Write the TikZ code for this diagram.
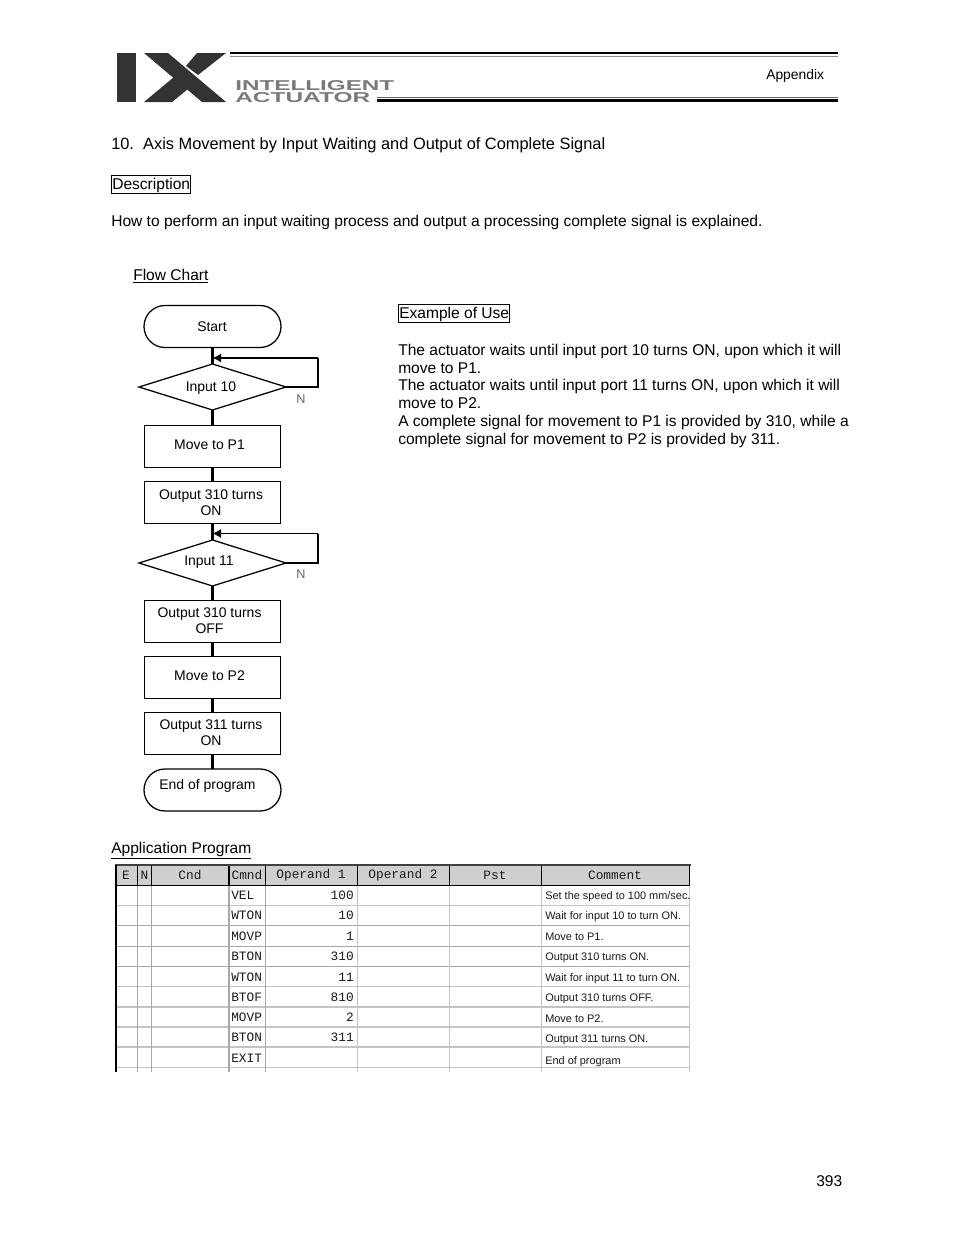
\documentclass[tikz,border=0pt]{standalone}
\usepackage{fontspec}
\usepackage{graphicx}
\setmainfont{Liberation Sans}
\newfontfamily\cellmono{Liberation Mono}
\usetikzlibrary{shapes.geometric,shapes.misc,arrows.meta}
\definecolor{inkdark}{HTML}{1A1A1A}
\definecolor{logodark}{HTML}{333333}
\definecolor{logogray}{HTML}{7A7A7A}
\definecolor{headfill}{HTML}{CFCFCF}
\definecolor{gridgray}{HTML}{C4C4C4}
\definecolor{gridmid}{HTML}{A8A8A8}
\tikzset{
  bodytext/.style={anchor=base west,inner sep=0pt,font=\fontsize{11.67}{14}\selectfont,text=black},
  flowbox/.style={draw=black,line width=0.95pt,rectangle,minimum width=102.5pt,minimum height=31pt,inner sep=0pt,outer sep=0pt},
  terminal/.style={draw=black,line width=0.95pt,rounded rectangle,minimum width=102.75pt,minimum height=31.5pt,inner sep=0pt,outer sep=0pt},
  decision/.style={draw=black,line width=0.95pt,diamond,shape aspect=3.2,minimum width=110.25pt,minimum height=34.5pt,inner sep=0pt,outer sep=0pt},
  flowlabel/.style={font=\fontsize{10.47}{12}\selectfont,align=center,inner sep=0pt},
  link/.style={draw=black,line width=1.6pt},
  loopside/.style={draw=black,line width=1.05pt},
  loopback/.style={draw=black,line width=1.6pt,-{Latex[length=6.5pt,width=7pt]}},
  nmark/.style={font=\fontsize{9.5}{11}\selectfont,text=black!60,inner sep=0pt},
  headtxt/.style={font=\cellmono\fontsize{9.6}{11}\selectfont,text=inkdark,inner sep=0pt},
  celltxt/.style={font=\cellmono\fontsize{9.6}{11}\selectfont,text=inkdark,inner sep=0pt},
  cmttxt/.style={font=\fontsize{8.2}{10}\selectfont,text=inkdark,anchor=west,inner sep=0pt},
}
\begin{document}
\begin{tikzpicture}[x=0.75pt,y=-0.75pt]
\path[use as bounding box,fill=white] (0,0) rectangle (954,1235);
% logo
\fill[logodark] (117,53) rectangle (136,102);
\fill[logodark] (144,53) -- (168,53) -- (226,102) -- (202,102) -- cycle;
\fill[logodark] (197,53) -- (226,53) -- (198,75) -- (186,66) -- cycle;
\fill[logodark] (144,102) -- (172,102) -- (188,89) -- (174,77) -- cycle;
\draw[black,line width=1.6pt] (230,53) -- (838,53);
\draw[black!45,line width=0.7pt] (230,56) -- (838,56);
\draw[black!60,line width=0.7pt] (377,97) -- (838,97);
\draw[black,line width=1.6pt] (377,100.5) -- (838,100.5);
\node[anchor=base west,inner sep=0pt,text=logogray] (logoa) at (235,90) {\resizebox{119.25pt}{7.5pt}{\bfseries INTELLIGENT}};
\node[anchor=base west,inner sep=0pt,text=logogray] (logob) at (235,102) {\resizebox{101.25pt}{7.5pt}{\bfseries ACTUATOR}};
\node[anchor=base west,inner sep=0pt,font=\fontsize{10.4}{12}\selectfont] (appx) at (766,79) {Appendix};
% heading text
\node[bodytext,font=\fontsize{12.29}{14}\selectfont] (title) at (111,149) {10.\ \ Axis Movement by Input Waiting and Output of Complete Signal};
\node[bodytext] (desc) at (112,189) {Description};
\draw[black,line width=0.6pt] (111,175) rectangle (190,193);
\node[bodytext] (howto) at (111,226) {How to perform an input waiting process and output a processing complete signal is explained.};
\node[bodytext] (fc) at (133,280) {\underline{Flow Chart}};
\node[bodytext] (ex) at (399,318) {Example of Use};
\draw[black,line width=0.6pt] (398,304) rectangle (509,322);
\node[bodytext] (p1) at (398,355) {The actuator waits until input port 10 turns ON, upon which it will};
\node[bodytext] (p2) at (398,373) {move to P1.};
\node[bodytext] (p3) at (398,390) {The actuator waits until input port 11 turns ON, upon which it will};
\node[bodytext] (p4) at (398,408) {move to P2.};
\node[bodytext] (p5) at (398,426) {A complete signal for movement to P1 is provided by 310, while a};
\node[bodytext] (p6) at (398,444) {complete signal for movement to P2 is provided by 311.};
\node[bodytext] (ap) at (111,853) {\underline{Application Program}};
\node[bodytext] (pg) at (816,1186) {393};
% flow chart
\node[terminal] (start) at (212.5,326.5) {};
\node[flowlabel] at (212,327) {Start};
\node[decision] (d1) at (212.5,387) {};
\node[flowlabel] at (211,388.5) {Input 10};
\node[flowbox] (b1) at (212.5,446.5) {};
\node[flowlabel] at (209.5,444.5) {Move to P1};
\node[flowbox] (b2) at (212.5,502.5) {};
\node[flowlabel] at (211,503) {Output 310 turns\\ON};
\node[decision] (d2) at (212.5,563) {};
\node[flowlabel] at (209,562.5) {Input 11};
\node[flowbox] (b3) at (212.5,621.5) {};
\node[flowlabel] at (209.5,621) {Output 310 turns\\OFF};
\node[flowbox] (b4) at (212.5,677.5) {};
\node[flowlabel] at (209.5,675.5) {Move to P2};
\node[flowbox,minimum height=32pt] (b5) at (212.5,733.5) {};
\node[flowlabel] at (211,733) {Output 311 turns\\ON};
\node[terminal] (end) at (212.5,790) {};
\node[flowlabel] at (207.5,786) {End of program};
\draw[link] (start) -- (d1);
\draw[link] (d1) -- (b1);
\draw[link] (b1) -- (b2);
\draw[link] (b2) -- (d2);
\draw[link] (d2) -- (b3);
\draw[link] (b3) -- (b4);
\draw[link] (b4) -- (b5);
\draw[link] (b5) -- (end);
\coordinate (j1) at (212.5,358);
\coordinate (c1a) at (318,387);
\coordinate (c1b) at (318,358);
\coordinate (j2) at (212.5,533.5);
\coordinate (c2a) at (318,563);
\coordinate (c2b) at (318,533.5);
\draw[loopside] (d1.east) -- (c1a) -- (c1b);
\draw[loopback] (c1b) -- (j1);
\draw[loopside] (d2.east) -- (c2a) -- (c2b);
\draw[loopback,line width=1.05pt] (c2b) -- (j2);
\node[nmark] (n1) at (301,399.5) {N};
\node[nmark] (n2) at (301,574.5) {N};
% table
\fill[headfill] (116,866) rectangle (690,885);
\foreach \ya/\col/\w in {905/gridgray/0.7,925.7/gridmid/1.1,946.5/gridmid/1.2,966.7/gridmid/1,986.7/gridgray/0.7,1007/gridgray/0.8,1027/gridgray/0.8,1047/gridgray/0.8,1067/gridgray/0.7}
  \draw[\col,line width=\w pt] (116,\ya) -- (690,\ya);
\foreach \xa/\col/\w in {137.3/gridmid/0.9,151.5/gridmid/0.9,229/gridmid/0.9,265.5/gridmid/0.9,357.3/gridgray/0.8,449.3/gridgray/0.8,541.3/gridgray/0.8,689.5/gridgray/0.8}
  \draw[\col,line width=\w pt] (\xa,885) -- (\xa,1072);
\foreach \xa in {137.3,151.5,229,265.5,357.3,449.3,541.3,689.5}
  \draw[black,line width=1pt] (\xa,866) -- (\xa,885);
\draw[black!75,line width=1.4pt] (115,865) -- (691,865);
\draw[black,line width=1.2pt] (116,885.3) -- (690,885.3);
\draw[black,line width=1.6pt] (116,865) -- (116,1072);
\foreach \t/\xa/\nm in {E/126/he,N/144.5/hn,Cnd/190/hc,Cmnd/247/hm,Operand 1/311/ho,Operand 2/403/hp,Pst/495/hs,Comment/615/ht}
  \node[headtxt] (\nm) at (\xa,875) {\t};
\foreach \i/\t/\yy in {1/VEL/895,2/WTON/915.5,3/MOVP/936,4/BTON/956,5/WTON/977,6/BTOF/997,7/MOVP/1017.5,8/BTON/1037.5,9/EXIT/1058}
  \node[celltxt,anchor=west] (cm\i) at (231,\yy) {\t};
\foreach \i/\t/\yy in {1/100/895,2/10/915.5,3/1/936,4/310/956,5/11/977,6/810/997,7/2/1017.5,8/311/1037.5}
  \node[celltxt,anchor=east] (op\i) at (354,\yy) {\t};
\foreach \i/\t/\yy in {1/Set the speed to 100 mm\slash sec./896.5,2/Wait for input 10 to turn ON./916.5,3/Move to P1./937,4/Output 310 turns ON./958,5/Wait for input 11 to turn ON./978.5,6/Output 310 turns OFF./999,7/Move to P2./1018.5,8/Output 311 turns ON./1040,9/End of program/1062}
  \node[cmttxt] (cc\i) at (545,\yy) {\t};
\end{tikzpicture}
\end{document}
